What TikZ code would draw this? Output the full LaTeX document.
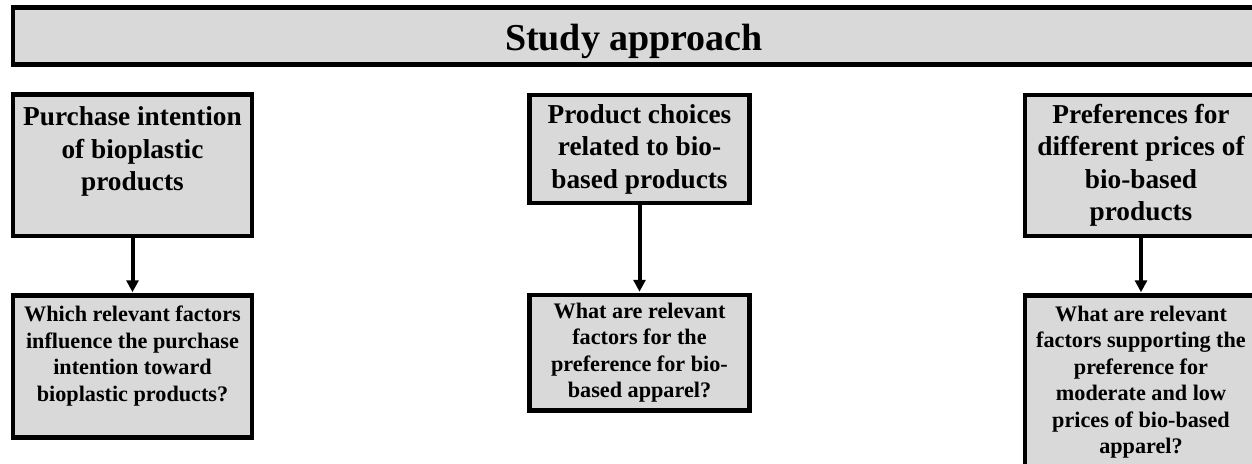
\documentclass[tikz,border=0pt]{standalone}
\usepackage{fontspec}
\setmainfont{Liberation Serif}
\usetikzlibrary{arrows.meta}
\definecolor{boxgray}{HTML}{D9D9D9}
\tikzset{
  box/.style={draw=black, line width=4.5pt, fill=boxgray, inner sep=0pt, align=center},
  headbox/.style={box, font=\bfseries\fontsize{38}{44}\selectfont, text height=29pt, text depth=0pt},
  topbox/.style={box, font=\bfseries\fontsize{27.3}{32.5}\selectfont},
  qbox/.style={box, font=\bfseries\fontsize{22.2}{26.5}\selectfont},
  link/.style={line width=4pt, -{Triangle[width=12pt,length=12pt]}, shorten >=1pt}
}
\begin{document}
\begin{tikzpicture}[x=1pt, y=-1pt]
\useasboundingbox (0,0) rectangle (1252,463);
\clip (0,0) rectangle (1252,463);
\fill[white] (0,0) rectangle (1252,463);

\node[headbox, minimum width=1242pt, minimum height=57pt] (head) at (634,36) {Study approach};

\node[topbox, minimum width=239pt, minimum height=141.5pt, text depth=33pt] (b1u) at (132.5,165.25)
  {Purchase intention\\of bioplastic\\products};
\node[qbox, minimum width=239pt, minimum height=142pt, text depth=26pt] (b1l) at (132.5,366.5)
  {Which relevant factors\\influence the purchase\\intention toward\\bioplastic products?};

\node[topbox, minimum width=220pt, minimum height=108pt] (b2u) at (639.5,149)
  {Product choices\\related to bio-\\based products};
\node[qbox, minimum width=220pt, minimum height=115.5pt] (b2l) at (639.5,352.75)
  {What are relevant\\factors for the\\preference for bio-\\based apparel?};

\node[topbox, minimum width=232pt, minimum height=141pt] (b3u) at (1141,165.5)
  {Preferences for\\different prices of\\bio-based\\products};
\node[qbox, minimum width=232pt, minimum height=173pt] (b3l) at (1141,382)
  {What are relevant\\factors supporting the\\preference for\\moderate and low\\prices of bio-based\\apparel?};

\draw[link] (b1u.south) -- (b1l.north);
\draw[link] (b2u.south) -- (b2l.north);
\draw[link] (b3u.south) -- (b3l.north);
\end{tikzpicture}
\end{document}
